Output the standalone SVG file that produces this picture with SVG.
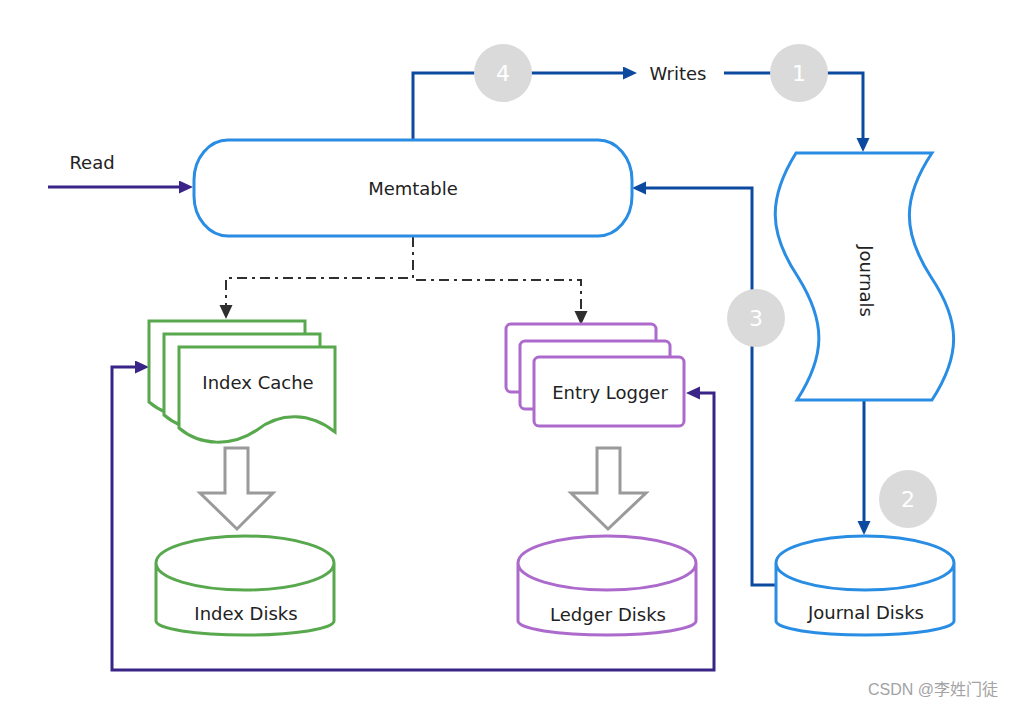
<svg xmlns="http://www.w3.org/2000/svg" width="1016" height="707" viewBox="0 0 1016 707">
<style>
text{font-family:"DejaVu Sans","Liberation Sans",sans-serif;fill:#222;font-size:18px;text-anchor:middle}
.blue{fill:#fff;stroke:#2a8de4;stroke-width:3}
.green{fill:#fff;stroke:#58a84e;stroke-width:3}
.purple{fill:#fff;stroke:#ad6acd;stroke-width:3}
.bl{fill:none;stroke:#0c4aa0;stroke-width:3}
.pl{fill:none;stroke:#3b2487;stroke-width:3}
.dd{fill:none;stroke:#2f2f2f;stroke-width:2;stroke-dasharray:10,5,3,5}
.gray{fill:#fff;stroke:#9a9a9a;stroke-width:3;stroke-linejoin:miter}
.num{fill:#dadada}
.numt{fill:#fff;font-size:22px}
</style>
<defs>
<marker id="ab" markerUnits="userSpaceOnUse" markerWidth="16" markerHeight="14" refX="6" refY="6.5" orient="auto"><path d="M0,0 L14,6.5 L0,13 z" fill="#0c4aa0"/></marker>
<marker id="ap" markerUnits="userSpaceOnUse" markerWidth="16" markerHeight="14" refX="6" refY="6.5" orient="auto-start-reverse"><path d="M0,0 L14,6.5 L0,13 z" fill="#3b2487"/></marker>
<marker id="ad" markerUnits="userSpaceOnUse" markerWidth="16" markerHeight="14" refX="6" refY="6.5" orient="auto"><path d="M0,0 L14,6.5 L0,13 z" fill="#2f2f2f"/></marker>
<path id="doc" d="M179,347 H335 V432 C310,412 280,412 257,430 C232,447 200,446 179,428 Z"/>
<path id="cylL" d="M0,0 A89,27 0 0 1 178,0 V58 A89,14 0 0 1 0,58 Z M0,0 A89,27 0 0 0 178,0"/>
</defs>

<g id="connectors">
<path class="bl" d="M413,140 V73 H629" marker-end="url(#ab)"/>
<path class="bl" d="M724,73 H863 V144" marker-end="url(#ab)"/>
<path class="bl" d="M864,400 V527" marker-end="url(#ab)"/>
<path class="bl" d="M776,585 H752 V188 H640" marker-end="url(#ab)"/>
<path class="pl" d="M48,187 H185" marker-end="url(#ap)"/>
<path class="pl" d="M141,367 H112 V670 H714 V393 H694" marker-start="url(#ap)" marker-end="url(#ap)"/>
<path class="dd" d="M413,237 V278 H226 V311" marker-end="url(#ad)"/>
<path class="dd" d="M416,280 H581 V317" marker-end="url(#ad)"/>
<text x="92" y="169">Read</text>
<text x="678" y="80">Writes</text>
</g>

<g id="step4"><circle class="num" cx="503" cy="73" r="29"/><text class="numt" x="503" y="81">4</text></g>
<g id="step1"><circle class="num" cx="799" cy="73" r="29"/><text class="numt" x="799" y="81">1</text></g>
<g id="step3"><circle class="num" cx="756" cy="318" r="29"/><text class="numt" x="756" y="326">3</text></g>
<g id="step2"><circle class="num" cx="908" cy="499" r="29"/><text class="numt" x="908" y="507">2</text></g>

<g id="memtable">
<rect class="blue" x="194" y="140" width="438" height="96" rx="34" ry="40"/>
<text x="413" y="195">Memtable</text>
</g>

<g id="journals">
<path class="blue" d="M796,153 H932 C902,198 902,232 931,277 C961,322 961,355 932,400 H797 C826,355 826,322 798,277 C768,232 768,198 796,153 Z"/>
<text transform="translate(866,281) rotate(90)" y="6">Journals</text>
</g>

<g id="journal-disks">
<use href="#cylL" class="blue" x="776" y="563"/>
<text x="866" y="619">Journal Disks</text>
</g>

<g id="index-cache">
<use href="#doc" class="green" x="-30" y="-26"/>
<use href="#doc" class="green" x="-15" y="-13"/>
<use href="#doc" class="green"/>
<text x="258" y="389">Index Cache</text>
</g>

<g id="entry-logger">
<rect class="purple" x="506" y="324" width="150" height="68" rx="5"/>
<rect class="purple" x="520" y="341" width="150" height="68" rx="5"/>
<rect class="purple" x="534" y="357" width="150" height="69" rx="5"/>
<text x="610" y="399">Entry Logger</text>
</g>

<g id="index-flush">
<path class="gray" d="M225,448 H248 V493 H273 L237,529 L200,493 H225 Z"/>
</g>
<g id="ledger-flush">
<path class="gray" d="M597,448 H620 V493 H646 L608,529 L571,493 H597 Z"/>
</g>

<g id="index-disks">
<use href="#cylL" class="green" x="156" y="563"/>
<text x="246" y="620">Index Disks</text>
</g>

<g id="ledger-disks">
<use href="#cylL" class="purple" x="518" y="563"/>
<text x="608" y="621">Ledger Disks</text>
</g>

<text x="933" y="695" style="font-size:16px;fill:#a3a3a3;font-family:'Liberation Sans','Noto Sans CJK SC',sans-serif">CSDN @李姓门徒</text>
</svg>
